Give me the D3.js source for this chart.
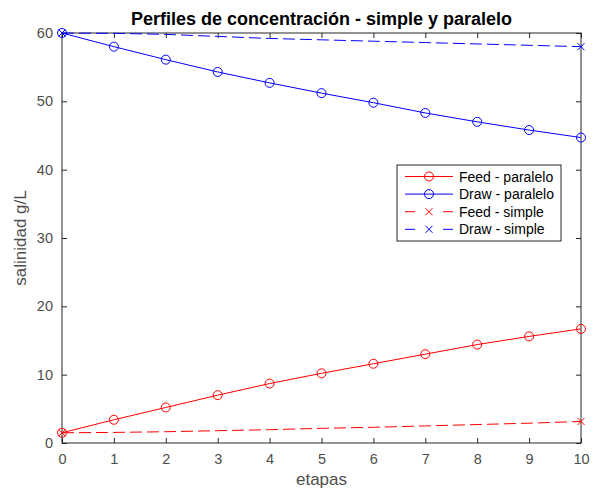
<!DOCTYPE html>
<html>
<head>
<meta charset="utf-8">
<script src="https://cdn.jsdelivr.net/npm/d3@7"></script>
<style>
  body { margin: 0; background: #fff; }
  text { font-family: "Liberation Sans", Arial, sans-serif; }
</style>
</head>
<body>
<div id="chart"></div>
<script>
// datos
var etapas = [0, 1, 2, 3, 4, 5, 6, 7, 8, 9, 10];
var feedParalelo = [1.5, 3.4, 5.2, 7.0, 8.7, 10.2, 11.6, 13.0, 14.4, 15.6, 16.7];
var drawParalelo = [60, 58.0, 56.1, 54.3, 52.7, 51.2, 49.8, 48.3, 47.0, 45.8, 44.7];
var feedSimple = [1.5, 1.55, 1.65, 1.8, 1.95, 2.15, 2.3, 2.5, 2.7, 2.9, 3.15];
var drawSimple = [60, 59.95, 59.8, 59.5, 59.2, 59.0, 58.8, 58.6, 58.4, 58.2, 58.0];
var marcasSimple = [0, 10]; // el simple solo tiene marcador en los extremos
var xTicks = [0, 1, 2, 3, 4, 5, 6, 7, 8, 9, 10];
var yTicks = [0, 10, 20, 30, 40, 50, 60];

var series = [
    { name: "Feed - paralelo", values: feedParalelo, color: "#ff0000", dash: null, marker: "o" },
    { name: "Draw - paralelo", values: drawParalelo, color: "#0000ff", dash: null, marker: "o" },
    { name: "Feed - simple", values: feedSimple, color: "#ff0000", dash: "12,5", marker: "x" },
    { name: "Draw - simple", values: drawSimple, color: "#0000ff", dash: "12,5", marker: "x" }
];

var width = 598, height = 490;
var margin = { top: 33, right: 17, bottom: 47, left: 62 };
var w = width - margin.left - margin.right;
var h = height - margin.top - margin.bottom;
var axisColor = "#262626";

var svg = d3.select("#chart").append("svg")
    .attr("width", width)
    .attr("height", height);

var g = svg.append("g")
    .attr("transform", "translate(" + margin.left + "," + margin.top + ")");

var x = d3.scaleLinear().domain([0, 10]).range([0, w]);
var y = d3.scaleLinear().domain([0, 60]).range([h, 0]);

// ejes (ticks hacia dentro, caja completa)
function styleAxis(sel) {
    sel.select(".domain").remove();
    sel.selectAll(".tick line").attr("stroke", axisColor);
    sel.selectAll(".tick text").attr("fill", "#4d4d4d").style("font-size", "14.5px");
}

g.append("g")
    .attr("transform", "translate(0," + h + ")")
    .call(d3.axisBottom(x).tickValues(xTicks).tickSizeInner(-5).tickSizeOuter(0).tickPadding(11))
    .call(styleAxis);

g.append("g")
    .call(d3.axisTop(x).tickValues(xTicks).tickSizeInner(-5).tickSizeOuter(0).tickFormat(""))
    .call(styleAxis);

g.append("g")
    .call(d3.axisLeft(y).tickValues(yTicks).tickSizeInner(-5).tickSizeOuter(0).tickPadding(9))
    .call(styleAxis);

g.append("g")
    .attr("transform", "translate(" + w + ",0)")
    .call(d3.axisRight(y).tickValues(yTicks).tickSizeInner(-5).tickSizeOuter(0).tickFormat(""))
    .call(styleAxis);

g.append("rect")
    .attr("width", w).attr("height", h)
    .attr("fill", "none")
    .attr("stroke", axisColor)
    .attr("stroke-width", 1);

var line = d3.line()
    .x(function(d, i) { return x(etapas[i]); })
    .y(function(d) { return y(d); });

function drawMarker(sel, type, color) {
    if (type === "o") {
        sel.append("circle").attr("r", 4.5)
            .attr("fill", "none").attr("stroke", color).attr("stroke-width", 1);
    } else {
        sel.append("path").attr("d", "M-3.5,-3.5L3.5,3.5M-3.5,3.5L3.5,-3.5")
            .attr("fill", "none").attr("stroke", color).attr("stroke-width", 1);
    }
}

series.forEach(function(s) {
    g.append("path")
        .datum(s.values)
        .attr("fill", "none")
        .attr("stroke", s.color)
        .attr("stroke-width", 1)
        .attr("stroke-dasharray", s.dash)
        .attr("d", line);

    var idx = s.marker === "o" ? etapas.map(function(d, i) { return i; }) : marcasSimple;
    idx.forEach(function(i) {
        var m = g.append("g")
            .attr("transform", "translate(" + x(etapas[i]) + "," + y(s.values[i]) + ")");
        drawMarker(m, s.marker, s.color);
    });
});

// leyenda
var legend = svg.append("g").attr("transform", "translate(397,165)");
legend.append("rect")
    .attr("width", 164).attr("height", 76)
    .attr("fill", "#fff").attr("stroke", axisColor).attr("stroke-width", 1);

series.forEach(function(s, i) {
    var ly = 11.5 + i * 17.6;
    legend.append("line")
        .attr("x1", 8).attr("x2", 56).attr("y1", ly).attr("y2", ly)
        .attr("stroke", s.color).attr("stroke-width", 1)
        .attr("stroke-dasharray", s.dash ? "10,28" : null);
    var m = legend.append("g").attr("transform", "translate(32," + ly + ")");
    drawMarker(m, s.marker, s.color);
    legend.append("text")
        .attr("x", 62).attr("y", ly + 5)
        .style("font-size", "14px")
        .attr("fill", "#000")
        .text(s.name);
});

// titulos
svg.append("text")
    .attr("x", margin.left + w / 2)
    .attr("y", 25)
    .attr("text-anchor", "middle")
    .style("font-size", "18px")
    .style("font-weight", "bold")
    .attr("fill", "#000")
    .text("Perfiles de concentración - simple y paralelo");

svg.append("text")
    .attr("x", margin.left + w / 2)
    .attr("y", 485)
    .attr("text-anchor", "middle")
    .style("font-size", "17px")
    .attr("fill", "#4d4d4d")
    .text("etapas");

svg.append("text")
    .attr("transform", "translate(26," + (margin.top + h / 2) + ") rotate(-90)")
    .attr("text-anchor", "middle")
    .style("font-size", "17px")
    .attr("fill", "#4d4d4d")
    .text("salinidad g/L");
</script>
</body>
</html>
